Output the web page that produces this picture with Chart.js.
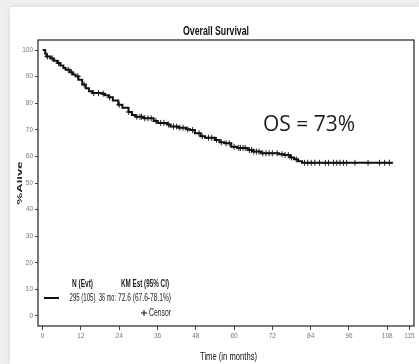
<!DOCTYPE html>
<html>
<head>
<meta charset="utf-8">
<script src="https://cdn.jsdelivr.net/npm/chart.js@4/dist/chart.umd.min.js"></script>
<style>
  html, body { margin: 0; padding: 0; width: 419px; height: 364px; overflow: hidden; background: #efefef; }
  .card { position: absolute; left: 10px; top: 7px; width: 409px; height: 357px; background: #fff;
          box-shadow: 0 0 6px rgba(0,0,0,0.10); }
  canvas { position: absolute; left: 0; top: 0; }
</style>
</head>
<body>
<div class="card"></div>
<canvas id="km" width="419" height="364"></canvas>
<script>
// Kaplan-Meier overall survival: event times (months) and survival (%) after each drop
const kmMonths = [0, 0.8, 1.2, 2.5, 3.5, 4.6, 5.5, 6.5, 7.2, 8.5, 9.5, 10.3, 11.2, 12.4, 13.5, 14.5, 15.5,
  18.5, 19.5, 20.7, 22, 23.7, 25, 26.9, 28, 29.1, 31.7, 34.8, 36, 37.4, 39, 40, 42.6, 45, 46.2, 47.7,
  49.5, 50.9, 54, 55.5, 57, 59.1, 61, 64.3, 66, 68.4, 74, 75.7, 77.5, 78.8, 80, 81.3, 109.8];
const kmSurvival = [100, 98.6, 97.6, 96.8, 96.0, 95.1, 94.2, 93.2, 92.6, 91.6, 90.8, 90.1, 88.8, 87.0, 85.6, 84.5, 83.8,
  83.6, 83.0, 82.2, 81.0, 79.4, 78.3, 76.7, 75.6, 74.9, 74.3, 73.3, 72.6, 72.6, 72.0, 71.2, 70.8, 70.2, 69.9, 68.7,
  67.6, 67.0, 66.2, 65.3, 64.9, 63.6, 63.2, 62.4, 61.8, 61.2, 60.8, 60.5, 59.6, 58.9, 58.2, 57.6, 57.6];

// Censored observations (months)
const censorMonths = [1.5, 3, 5, 8, 9, 11, 13, 16, 17.5, 19, 21, 24, 27, 29.5, 30.5, 31, 32, 33, 34, 35.5,
  37, 38, 39.5, 41, 42, 43, 44, 45.5, 47, 49, 50, 52, 53, 54.5, 56, 57.5, 58.5, 60, 61.5, 62, 62.8, 63.5,
  64.8, 65.5, 66.2, 67, 67.8, 69, 70, 71, 72, 73.5, 75, 76, 77, 78, 79.5,
  82.1, 83.1, 84.2, 85.3, 86.8, 88.6, 89.6, 91.2, 92.2, 93.2, 94.3, 95.3, 97.9, 102, 105.6, 107.2, 108.7];

const xTickValues = [0, 12, 24, 36, 48, 60, 72, 84, 96, 108, 115];
const yTickValues = [0, 10, 20, 30, 40, 50, 60, 70, 80, 90, 100];

const chartTitle = 'Overall Survival';
const xTitle = 'Time (in months)';
const yTitle = '%Alive';
const osLabel = 'OS = 73%';
const legendHeader = ['N (Evt)', 'KM Est (95% CI)'];
const legendRow = ['295 (105)', '36 mo:', '72.6 (67.6-78.1%)'];
const censorLabel = 'Censor';

const SANS = "'Liberation Sans', Arial, sans-serif";

// survival level in effect at time t (step function)
function survivalAt(t) {
  let s = kmSurvival[0];
  for (let i = 0; i < kmMonths.length; i++) {
    if (kmMonths[i] <= t) s = kmSurvival[i]; else break;
  }
  return s;
}

const kmPoints = kmMonths.map((m, i) => ({ x: m, y: kmSurvival[i] }));
const censorPoints = censorMonths.map(m => ({ x: m, y: survivalAt(m) }));

// draws text squeezed/stretched horizontally to a given width (narrow report typeface)
function fitText(ctx, text, x, y, font, align, width, angle) {
  ctx.save();
  ctx.font = font;
  ctx.textAlign = align;
  ctx.textBaseline = 'middle';
  const sx = width / ctx.measureText(text).width;
  ctx.translate(x, y);
  if (angle) ctx.rotate(angle);
  ctx.scale(sx, 1);
  ctx.fillText(text, 0, 0);
  ctx.restore();
}

const boxAndNotes = {
  id: 'boxAndNotes',
  afterDraw(chart) {
    const { ctx, chartArea: a } = chart;
    ctx.save();
    // plot frame
    ctx.strokeStyle = '#222';
    ctx.lineWidth = 1.2;
    ctx.strokeRect(a.left, a.top, a.right - a.left, a.bottom - a.top);

    // chart and axis titles
    ctx.fillStyle = '#111';
    fitText(ctx, chartTitle, 216, a.top - 9, 'bold 13px ' + SANS, 'center', 66);
    fitText(ctx, xTitle, 228.5, a.bottom + 31, '11px ' + SANS, 'center', 57);
    ctx.fillStyle = '#222';
    fitText(ctx, yTitle, 20, (a.top + a.bottom) / 2, 'bold 8px ' + SANS, 'center', 43, -Math.PI / 2);

    // OS annotation
    ctx.fillStyle = '#1e1e1e';
    ctx.font = "21px 'Open Sans', sans-serif";
    ctx.textAlign = 'left';
    ctx.textBaseline = 'middle';
    ctx.fillText(osLabel, a.left + 225, a.top + 85);

    // legend block
    const lx = a.left, by = a.bottom;
    ctx.fillStyle = '#1a1a1a';
    fitText(ctx, legendHeader[0], lx + 34, by - 42, 'bold 10px ' + SANS, 'left', 21);
    fitText(ctx, legendHeader[1], lx + 83, by - 42, 'bold 10px ' + SANS, 'left', 48);
    fitText(ctx, legendRow[0], lx + 31.5, by - 28, '10px ' + SANS, 'left', 26);
    fitText(ctx, legendRow[1], lx + 61, by - 28, '10px ' + SANS, 'left', 17);
    fitText(ctx, legendRow[2], lx + 80, by - 28, '10px ' + SANS, 'left', 53);
    fitText(ctx, censorLabel, lx + 111, by - 13, '10px ' + SANS, 'left', 22);
    ctx.strokeStyle = '#111';
    ctx.lineWidth = 2;
    ctx.beginPath();
    ctx.moveTo(lx + 6, by - 28); ctx.lineTo(lx + 21, by - 28);
    ctx.stroke();
    ctx.lineWidth = 1;
    ctx.beginPath();
    ctx.moveTo(lx + 103, by - 13); ctx.lineTo(lx + 109, by - 13);
    ctx.moveTo(lx + 106, by - 16); ctx.lineTo(lx + 106, by - 10);
    ctx.stroke();
    ctx.restore();
  }
};

new Chart(document.getElementById('km'), {
  type: 'line',
  data: {
    datasets: [
      {
        label: 'KM',
        data: kmPoints,
        stepped: 'before',
        borderColor: '#111',
        borderWidth: 2,
        pointRadius: 0,
        fill: false
      },
      {
        type: 'scatter',
        label: 'Censor',
        data: censorPoints,
        pointStyle: 'cross',
        pointRadius: 3,
        borderColor: '#222',
        borderWidth: 1,
        showLine: false
      }
    ]
  },
  options: {
    responsive: false,
    animation: false,
    layout: { padding: { left: 0, right: 1, top: 40, bottom: 0 } },
    plugins: {
      legend: { display: false },
      tooltip: { enabled: false },
      title: { display: false }
    },
    scales: {
      x: {
        type: 'linear',
        min: -1.46,
        max: 116.4,
        afterBuildTicks(s) { s.ticks = xTickValues.map(v => ({ value: v })); },
        afterFit(s) { s.height = 38; },
        grid: { drawOnChartArea: false, drawTicks: true, tickLength: 4, color: '#444' },
        border: { display: false },
        ticks: { color: '#777', font: { family: SANS, size: 6.5 }, padding: 2, maxRotation: 0, autoSkip: false },
        title: { display: false }
      },
      y: {
        min: -3.76,
        max: 103.76,
        afterBuildTicks(s) { s.ticks = yTickValues.map(v => ({ value: v })); },
        afterFit(s) { s.width = 38; },
        grid: { drawOnChartArea: false, drawTicks: true, tickLength: 3, color: '#444' },
        border: { display: false },
        ticks: { color: '#777', font: { family: SANS, size: 6.5 }, padding: 2, autoSkip: false },
        title: { display: false }
      }
    }
  },
  plugins: [boxAndNotes]
});
</script>
</body>
</html>
